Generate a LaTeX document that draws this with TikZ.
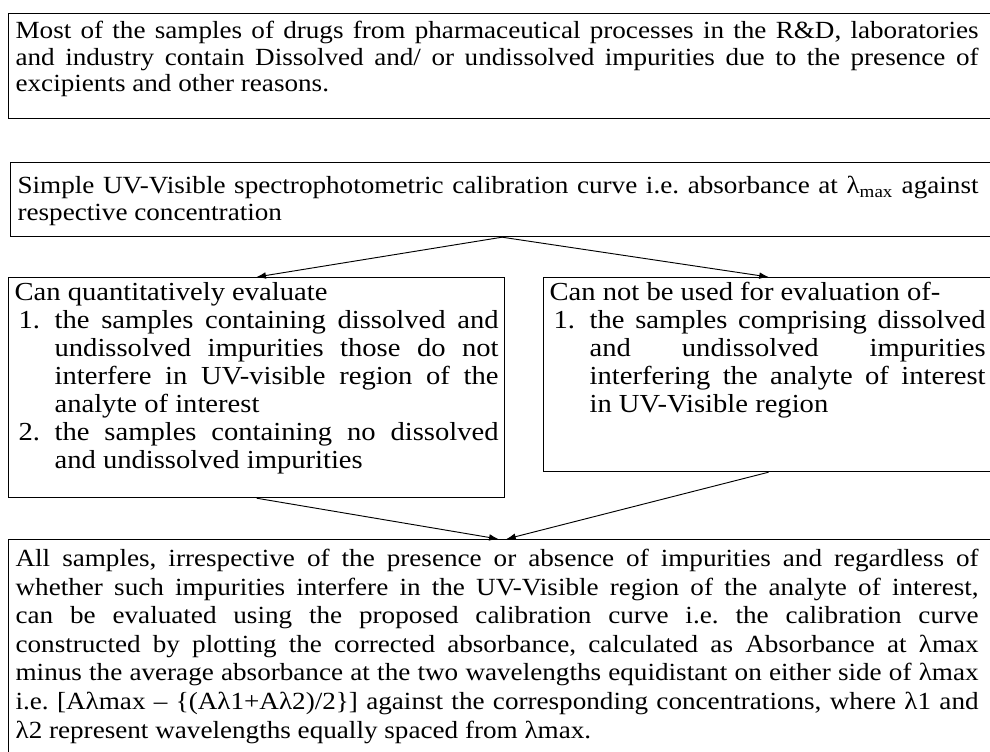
\documentclass[tikz,border=0pt]{standalone}
\usepackage{fontspec}
\setmainfont[FakeStretch=1.1]{Liberation Serif}
\usetikzlibrary{arrows.meta}

\tikzset{
  textbox/.style={draw, line width=0.9pt, anchor=north west, inner ysep=0pt, inner xsep=5.25pt, align=justify},
  flow/.style={line width=0.7pt, -{Latex[length=7pt,width=5pt]}}
}
\newcommand{\boxfont}[2]{\fontsize{#1}{#2}\selectfont\frenchspacing\hyphenpenalty=10000\exhyphenpenalty=10000\tolerance=9999}
\newcommand{\itm}[1]{\par\hangindent=30pt\hangafter=1\noindent\makebox[30pt][l]{\hspace{3pt}#1}\ignorespaces}

\begin{document}
\begin{tikzpicture}[x=0.75pt, y=-0.75pt]
\useasboundingbox (0,0) rectangle (990,752);
\coordinate (P1) at (8,13);
\coordinate (P2) at (10,162);
\coordinate (P3) at (8,277);
\coordinate (P4) at (543,277);
\coordinate (P5) at (8,539);

\node[textbox, font={\boxfont{18.5}{19.9pt}}, text width=728.25pt, text height=18.75pt, text depth=60pt] (drugs) at (P1)
  {\rightskip=6pt Most of the samples of drugs from pharmaceutical processes in the R\&D, laboratories\linebreak
   and industry contain Dissolved and/ or undissolved impurities due to the presence of\linebreak
   excipients and other reasons.\par};

\node[textbox, font={\boxfont{18.5}{20.25pt}}, text width=726.75pt, text height=23.25pt, text depth=32.25pt] (simple) at (P2)
  {\rightskip=6pt Simple UV-Visible spectrophotometric calibration curve i.e. absorbance at λ\textsubscript{max} against\linebreak
   respective concentration\par};

\node[textbox, font={\boxfont{19.5}{21pt}}, inner xsep=4.5pt, text width=363pt, text height=17.25pt, text depth=147.75pt] (canuse) at (P3)
  {Can quantitatively evaluate
   \itm{1.}the samples containing dissolved and\linebreak
   undissolved impurities those do not\linebreak
   interfere in UV-visible region of the\linebreak
   analyte of interest
   \itm{2.}the samples containing no dissolved\linebreak
   and undissolved impurities\par};

\node[textbox, font={\boxfont{19.5}{21pt}}, inner xsep=4.5pt, text width=328.5pt, text height=17.25pt, text depth=128.25pt] (cannot) at (P4)
  {\rightskip=1.5pt Can not be used for evaluation of-
   \itm{1.}the samples comprising dissolved\linebreak
   and undissolved impurities\linebreak
   interfering the analyte of interest\linebreak
   in UV-Visible region\par};

\node[textbox, font={\boxfont{18.5}{21.45pt}}, text width=728.25pt, text height=20.25pt, text depth=145.5pt] (all) at (P5)
  {\rightskip=6pt All samples, irrespective of the presence or absence of impurities and regardless of\linebreak
   whether such impurities interfere in the UV-Visible region of the analyte of interest,\linebreak
   can be evaluated using the proposed calibration curve i.e. the calibration curve\linebreak
   constructed by plotting the corrected absorbance, calculated as Absorbance at λmax\linebreak
   minus the average absorbance at the two wavelengths equidistant on either side of λmax\linebreak
   i.e. [Aλmax – \{(Aλ1+Aλ2)/2\}] against the corresponding concentrations, where λ1 and\linebreak
   λ2 represent wavelengths equally spaced from λmax.\par};

\draw[flow] (simple.south) -- (canuse.north);
\draw[flow] (simple.south) -- (cannot.north);
\draw[flow] (canuse.south) -- ([xshift=-2pt]all.north);
\draw[flow] (cannot.south) -- ([xshift=4pt]all.north);
\end{tikzpicture}
\end{document}
